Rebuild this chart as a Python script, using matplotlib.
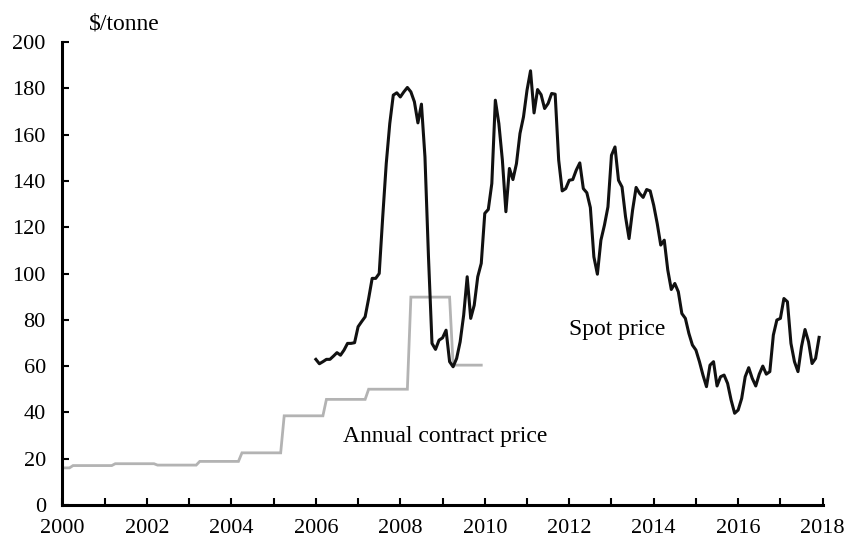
import matplotlib
matplotlib.use("Agg")
import matplotlib.pyplot as plt
import numpy as np

# monthly spot price, Jan 2006 - Dec 2017 ($/tonne)
spot_2006 = [62.9, 61.0, 61.9, 62.9, 62.9, 64.3, 65.8, 64.7, 66.9, 69.8, 69.8, 70.1]
spot_2007 = [77.0, 79.2, 81.3, 89.2, 97.9, 97.9, 100.0, 124.5, 147.5, 164.8, 177.1, 178.1]
spot_2008 = [176.3, 178.5, 180.4, 178.5, 174.2, 165.1, 173.2, 150.4, 107.2, 69.8, 67.2, 71.2]
spot_2009 = [72.2, 75.5, 61.9, 59.7, 63.3, 70.5, 82.0, 98.6, 80.6, 86.3, 98.6, 104.4]
spot_2010 = [126.0, 127.7, 138.9, 174.9, 164.8, 149.0, 126.7, 145.4, 140.6, 147.5, 160.5, 167.7]
spot_2011 = [179.2, 187.6, 169.4, 179.5, 177.3, 171.3, 173.5, 177.8, 177.5, 149.0, 135.7, 136.7]
spot_2012 = [140.3, 140.6, 144.7, 147.8, 136.7, 134.9, 128.5, 107.2, 99.7, 114.4, 120.9, 128.8]
spot_2013 = [151.1, 154.7, 140.3, 137.4, 124.5, 115.1, 127.4, 137.2, 134.6, 132.9, 136.3, 135.7]
spot_2014 = [129.5, 121.6, 112.3, 114.4, 101.5, 93.1, 95.7, 92.1, 82.7, 80.6, 74.1, 69.1]
spot_2015 = [66.9, 61.9, 56.1, 51.1, 60.4, 61.9, 51.4, 55.4, 56.1, 52.5, 45.3, 39.6]
spot_2016 = [41.0, 46.0, 55.4, 59.3, 54.7, 51.4, 56.5, 60.0, 56.5, 57.6, 73.4, 79.9]
spot_2017 = [80.6, 89.2, 87.8, 69.8, 61.9, 57.6, 68.4, 75.8, 70.5, 61.1, 63.3, 72.4]

spot = (spot_2006 + spot_2007 + spot_2008 + spot_2009 + spot_2010 + spot_2011
        + spot_2012 + spot_2013 + spot_2014 + spot_2015 + spot_2016 + spot_2017)
spot_t = 2006 + np.arange(len(spot)) / 12.0

# annual contract price, fiscal years starting April (FY1999 .. FY2009)
contract_fy = [1999, 2000, 2001, 2002, 2003, 2004, 2005, 2006, 2007, 2008, 2009]
contract_price = [16.0, 17.0, 17.8, 17.2, 18.8, 22.5, 38.5, 45.6, 50.0, 89.8, 60.4]

# expand to monthly Jan 2000 - Dec 2009
con_t = []
con_v = []
for yr in range(2000, 2010):
    for m in range(12):
        fy = yr if m >= 3 else yr - 1
        con_t.append(yr + m / 12.0)
        con_v.append(contract_price[contract_fy.index(fy)])

plt.rcParams['font.family'] = ['Liberation Serif', 'DejaVu Serif']

fig = plt.figure(figsize=(8.56, 5.4), dpi=100)
ax = fig.add_axes([0.073, 0.065, 0.888, 0.857])

ax.plot(con_t, con_v, color="#b3b3b3", lw=2.0, solid_joinstyle="miter")
ax.plot(spot_t, spot, color="#111111", lw=2.2)

ax.set_xlim(2000, 2018)
ax.set_ylim(0, 200)
ax.set_xticks(range(2000, 2019))
ax.set_xticklabels([str(y) if y % 2 == 0 else "" for y in range(2000, 2019)])
ax.set_yticks(range(0, 201, 20))

for s in ["top", "right"]:
    ax.spines[s].set_visible(False)
for s in ["left", "bottom"]:
    ax.spines[s].set_linewidth(2.2)
    ax.spines[s].set_color("black")
ax.tick_params(direction="in", length=5, width=1.5, labelsize=16)
ax.tick_params(axis="x", pad=10)
ax.tick_params(axis="y", pad=12)

fig.text(89 / 856, 1 - 24 / 540, "$/tonne", fontsize=17, ha="left", va="center")
ax.text(2012.0, 75.6, "Spot price", fontsize=17, ha="left", va="center")
ax.text(2006.64, 29.4, "Annual contract price", fontsize=17, ha="left", va="center")

fig.savefig("out.png", dpi=100)
